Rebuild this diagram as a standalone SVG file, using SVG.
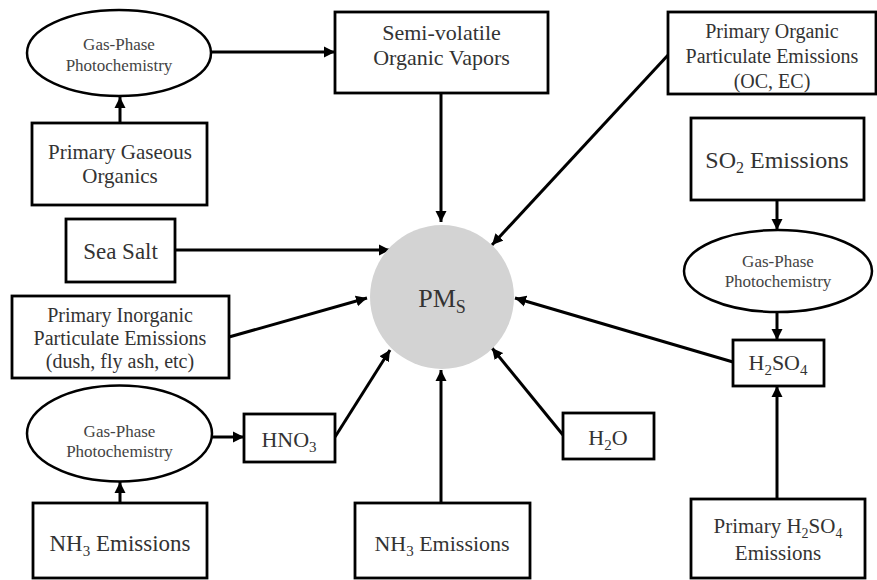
<svg xmlns="http://www.w3.org/2000/svg" width="877" height="580" viewBox="0 0 877 580">
<defs>
<style>
.box{fill:#fff;stroke:#000;stroke-width:2.8}
.ell{fill:#fff;stroke:#000;stroke-width:2.5}
text{font-family:'Liberation Serif','DejaVu Serif',serif}
.t{fill:#333;text-anchor:middle}
.g{fill:#444;text-anchor:middle;font-size:17px}
.c{stroke:#000;stroke-width:3;fill:none;marker-end:url(#ah)}
</style>
<marker id="ah" markerUnits="userSpaceOnUse" markerWidth="12" markerHeight="12" refX="11" refY="6" orient="auto">
<path d="M0,0.5 L11,6 L0,11.5 z" fill="#000"/>
</marker>
</defs>
<rect width="877" height="580" fill="#fff"/>

<g id="connectors">
<line class="c" x1="211" y1="52" x2="335" y2="52"/>
<line class="c" x1="120" y1="123" x2="120" y2="97"/>
<line class="c" x1="441" y1="93" x2="441" y2="222"/>
<line class="c" x1="669" y1="54" x2="492" y2="245"/>
<line class="c" x1="175" y1="250" x2="390" y2="250"/>
<line class="c" x1="229" y1="337" x2="367" y2="298"/>
<line class="c" x1="212" y1="437" x2="244" y2="437"/>
<line class="c" x1="335" y1="437" x2="390" y2="350"/>
<line class="c" x1="120" y1="503" x2="120" y2="482"/>
<line class="c" x1="441" y1="503" x2="441" y2="370"/>
<line class="c" x1="563" y1="435" x2="492" y2="348"/>
<line class="c" x1="733" y1="362" x2="515" y2="298"/>
<line class="c" x1="777" y1="200" x2="777" y2="230"/>
<line class="c" x1="777" y1="312" x2="777" y2="340"/>
<line class="c" x1="777" y1="499" x2="777" y2="386"/>
</g>

<g id="pms">
<circle cx="442" cy="297" r="72" fill="#d3d3d3"/>
<text class="t" x="442" y="307" font-size="26" font-family="Liberation Serif, serif">PM<tspan dy="6" font-size="18">S</tspan></text>
</g>

<g id="gas-phase-top">
<ellipse class="ell" cx="119" cy="53" rx="92" ry="43"/>
<text class="g" x="119" y="50">Gas-Phase</text>
<text class="g" x="119" y="71">Photochemistry</text>
</g>

<g id="semi-volatile">
<rect class="box" x="335" y="12" width="213" height="81"/>
<text class="t" x="441.5" y="40" font-size="22">Semi-volatile</text>
<text class="t" x="441.5" y="65" font-size="22">Organic Vapors</text>
</g>

<g id="primary-gaseous">
<rect class="box" x="32" y="123" width="175" height="82"/>
<text class="t" x="120" y="159" font-size="21">Primary Gaseous</text>
<text class="t" x="120" y="183" font-size="21">Organics</text>
</g>

<g id="sea-salt">
<rect class="box" x="66" y="219" width="109" height="63"/>
<text class="t" x="120.5" y="259" font-size="23">Sea Salt</text>
</g>

<g id="primary-organic">
<rect class="box" x="668" y="12" width="208" height="82"/>
<text class="t" x="772" y="38" font-size="20">Primary Organic</text>
<text class="t" x="772" y="63" font-size="20">Particulate Emissions</text>
<text class="t" x="772" y="88" font-size="20">(OC, EC)</text>
</g>

<g id="so2">
<rect class="box" x="691" y="118" width="173" height="82"/>
<text class="t" x="777" y="168" font-size="24">SO<tspan dy="5" font-size="16">2</tspan><tspan dy="-5"> Emissions</tspan></text>
</g>

<g id="gas-phase-right">
<ellipse class="ell" cx="778" cy="271" rx="94" ry="41"/>
<text class="g" x="778" y="267">Gas-Phase</text>
<text class="g" x="778" y="287">Photochemistry</text>
</g>

<g id="h2so4">
<rect class="box" x="733" y="340" width="91" height="46"/>
<text class="t" x="778" y="370" font-size="22">H<tspan dy="5" font-size="15">2</tspan><tspan dy="-5">SO</tspan><tspan dy="5" font-size="15">4</tspan></text>
</g>

<g id="primary-inorganic">
<rect class="box" x="12" y="296" width="217" height="82"/>
<text class="t" x="120" y="322" font-size="20">Primary Inorganic</text>
<text class="t" x="120" y="345" font-size="20">Particulate Emissions</text>
<text class="t" x="120" y="368" font-size="20">(dush, fly ash, etc)</text>
</g>

<g id="gas-phase-bottom">
<ellipse class="ell" cx="119.5" cy="433.5" rx="92.5" ry="48"/>
<text class="g" x="119.5" y="437">Gas-Phase</text>
<text class="g" x="119.5" y="457">Photochemistry</text>
</g>

<g id="hno3">
<rect class="box" x="244" y="414" width="91" height="48"/>
<text class="t" x="289" y="447" font-size="22">HNO<tspan dy="5" font-size="15">3</tspan></text>
</g>

<g id="h2o">
<rect class="box" x="563" y="413" width="91" height="46"/>
<text class="t" x="608" y="445" font-size="22">H<tspan dy="5" font-size="15">2</tspan><tspan dy="-5">O</tspan></text>
</g>

<g id="nh3-left">
<rect class="box" x="33" y="503" width="174" height="75"/>
<text class="t" x="120" y="551" font-size="23">NH<tspan dy="5" font-size="15">3</tspan><tspan dy="-5"> Emissions</tspan></text>
</g>

<g id="nh3-middle">
<rect class="box" x="355" y="503" width="175" height="75"/>
<text class="t" x="442" y="551" font-size="22">NH<tspan dy="5" font-size="15">3</tspan><tspan dy="-5"> Emissions</tspan></text>
</g>

<g id="primary-h2so4">
<rect class="box" x="691" y="499" width="174" height="79"/>
<text class="t" x="778" y="533" font-size="21">Primary H<tspan dy="5" font-size="14">2</tspan><tspan dy="-5">SO</tspan><tspan dy="5" font-size="14">4</tspan></text>
<text class="t" x="778" y="560" font-size="21">Emissions</text>
</g>
</svg>
